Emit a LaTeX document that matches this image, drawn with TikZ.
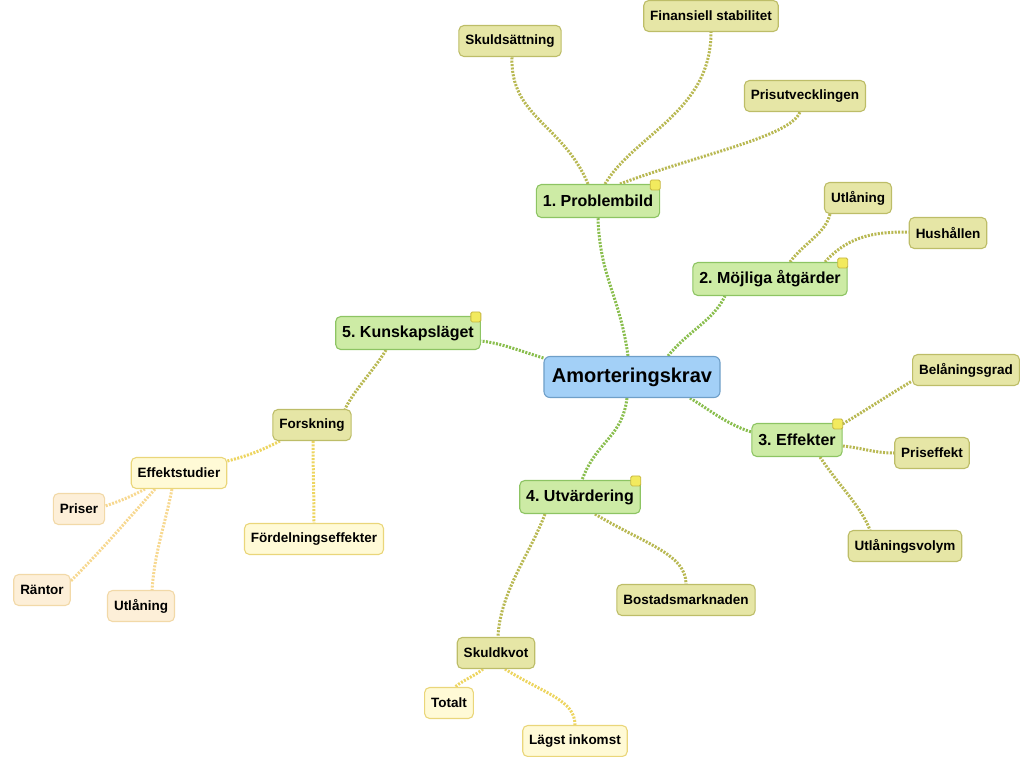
\documentclass[tikz,border=0pt]{standalone}
\usepackage{fontspec}
\setmainfont{Liberation Sans}
\usetikzlibrary{calc}
\usetikzlibrary{backgrounds}
\frenchspacing

\definecolor{rootfill}{HTML}{A3D0F7}
\definecolor{rootline}{HTML}{6F9FC8}
\definecolor{greenfill}{HTML}{CDEBA5}
\definecolor{greenline}{HTML}{8DC463}
\definecolor{olivefill}{HTML}{E6E6A6}
\definecolor{oliveline}{HTML}{BDBD68}
\definecolor{palefill}{HTML}{FFFAD6}
\definecolor{paleline}{HTML}{EAD67A}
\definecolor{peachfill}{HTML}{FDEFD8}
\definecolor{peachline}{HTML}{F2D9A8}
\definecolor{notefill}{HTML}{F2EA5E}
\definecolor{noteline}{HTML}{C6B640}
\definecolor{glink}{HTML}{8ABE4E}
\definecolor{olink}{HTML}{B8B852}
\definecolor{ylink}{HTML}{EDD560}
\definecolor{plink}{HTML}{F7D890}

\begin{document}
\begin{tikzpicture}[x=1pt,y=-1pt,
 box/.style={draw, rounded corners=5pt, line width=1.1pt, inner xsep=6.5pt,
   minimum height=31pt, font=\fontsize{13.5}{15}\selectfont\bfseries},
 rootbox/.style={box, fill=rootfill, draw=rootline, rounded corners=6pt,
   minimum height=41pt, inner xsep=8pt, font=\fontsize{20}{22}\selectfont\bfseries},
 mainbox/.style={box, fill=greenfill, draw=greenline, minimum height=33pt,
   font=\fontsize{16}{18}\selectfont\bfseries},
 subbox/.style={box, fill=olivefill, draw=oliveline},
 leafbox/.style={box, fill=palefill, draw=paleline},
 peachbox/.style={box, fill=peachfill, draw=peachline},
 note/.style={draw=noteline, fill=notefill, rounded corners=1.5pt, line width=0.8pt,
   minimum size=10pt, inner sep=0pt},
 link/.style={line width=3pt, dash pattern=on 2pt off 1.4pt},
 glinkline/.style={link, draw=glink},
 olinkline/.style={link, draw=olink},
 ylinkline/.style={link, draw=ylink},
 plinkline/.style={link, draw=plink}]
\useasboundingbox (0,0) rectangle (1034,756);

% centre and main branches
\node[rootbox] (root) at (632,377) {Amorteringskrav};
\node[mainbox] (prob) at (598,201) {1. Problembild};
\node[mainbox] (atg) at (770,279) {2. Möjliga åtgärder};
\node[mainbox] (eff) at (797,440) {3. Effekter};
\node[mainbox] (utv) at (580,497) {4. Utvärdering};
\node[mainbox] (kun) at (408,333) {5. Kunskapsläget};

% second level
\node[subbox] (skuld) at (510,41) {Skuldsättning};
\node[subbox] (finst) at (711,16) {Finansiell stabilitet};
\node[subbox] (prisutv) at (805,96) {Prisutvecklingen};
\node[subbox] (utl) at (858,198) {Utlåning};
\node[subbox] (hush) at (948,233) {Hushållen};
\node[subbox] (belan) at (966,370) {Belåningsgrad};
\node[subbox] (prisef) at (932,453) {Priseffekt};
\node[subbox] (utlvol) at (905,546) {Utlåningsvolym};
\node[subbox] (bost) at (686,600) {Bostadsmarknaden};
\node[subbox] (skkvot) at (496,653) {Skuldkvot};
\node[subbox] (forsk) at (312,425) {Forskning};

% third level
\node[leafbox] (effst) at (179,473) {Effektstudier};
\node[leafbox] (fordel) at (314,539) {Fördelningseffekter};
\node[leafbox] (totalt) at (449,703) {Totalt};
\node[leafbox] (lagst) at (575,741) {Lägst inkomst};

% fourth level
\node[peachbox] (priser) at (79,509) {Priser};
\node[peachbox] (rantor) at (42,590) {Räntor};
\node[peachbox] (utl2) at (141,606) {Utlåning};

% notes
\foreach \n in {prob,atg,eff,utv,kun}
 \node[note] (\n-note) at ([shift={(-5,1)}]\n.north east) {};

\begin{scope}[on background layer]
% centre to main branches
\draw[glinkline] ([xshift=-4]root.north) .. controls +(-8,-60) and +(2,60) .. (prob.south);
\draw[glinkline] ([xshift=36]root.north) .. controls +(20,-25) and +(-12,25) .. ([xshift=-45]atg.south);
\draw[glinkline] ([xshift=58]root.south) .. controls +(20,12) and +(-25,-8) .. ([yshift=8]eff.west);
\draw[glinkline] ([xshift=-5]root.south) .. controls +(-5,40) and +(15,-40) .. ([xshift=2]utv.north);
\draw[glinkline] ([yshift=19]root.west) .. controls +(-20,-6) and +(20,2) .. ([yshift=-8]kun.east);

% problembild
\draw[olinkline] ([xshift=-10]prob.north) .. controls +(-25,-60) and +(-2,60) .. ([xshift=2]skuld.south);
\draw[olinkline] ([xshift=7]prob.north) .. controls +(30,-50) and +(0,80) .. (finst.south);
\draw[olinkline] ([xshift=22]prob.north) .. controls +(80,-30) and +(-10,25) .. ([xshift=-5]prisutv.south);

% mojliga atgarder
\draw[olinkline] ([xshift=20]atg.north) .. controls +(15,-20) and +(-5,20) .. ([xshift=-28]utl.south);
\draw[olinkline] ([xshift=55]atg.north) .. controls +(25,-28) and +(-30,0) .. ([yshift=1]hush.west);

% effekter
\draw[olinkline] ([shift={(0,1)}]eff.north east) .. controls +(25,-15) and +(-25,15) .. ([yshift=-11]belan.west);
\draw[olinkline] ([yshift=-6]eff.east) .. controls +(20,2) and +(-20,0) .. (prisef.west);
\draw[olinkline] ([xshift=23]eff.south) .. controls +(20,30) and +(-10,-25) .. ([xshift=-35]utlvol.north);

% utvardering
\draw[olinkline] ([xshift=15]utv.south) .. controls +(50,30) and +(0,-30) .. (bost.north);
\draw[olinkline] ([xshift=-35]utv.south) .. controls +(-15,40) and +(2,-45) .. ([xshift=2]skkvot.north);

% skuldkvot
\draw[ylinkline] ([xshift=-13]skkvot.south) .. controls +(-10,8) and +(10,-8) .. ([xshift=6]totalt.north);
\draw[ylinkline] ([xshift=9]skkvot.south) .. controls +(40,25) and +(0,-25) .. (lagst.north);

% kunskapslaget
\draw[olinkline] ([xshift=-22]kun.south) .. controls +(-12,20) and +(10,-20) .. ([xshift=33]forsk.north);
\draw[ylinkline] ([xshift=-32]forsk.south) .. controls +(-20,10) and +(20,-5) .. ([yshift=12]effst.east);
\draw[ylinkline] ([xshift=1]forsk.south) .. controls +(0,30) and +(0,-30) .. (fordel.north);

% effektstudier
\draw[plinkline] ([xshift=-34]effst.south) .. controls +(-15,8) and +(15,-5) .. ([yshift=3]priser.east);
\draw[plinkline] ([xshift=-24]effst.south) .. controls +(-40,45) and +(30,-30) .. ([shift={(-2,-7)}]rantor.east);
\draw[plinkline] ([xshift=-7]effst.south) .. controls +(-8,40) and +(3,-40) .. ([xshift=11]utl2.north);
\end{scope}
\end{tikzpicture}
\end{document}
